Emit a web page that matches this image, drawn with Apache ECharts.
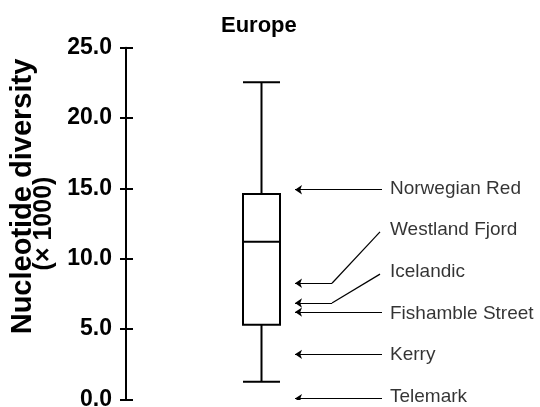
<!DOCTYPE html>
<html>
<head>
<meta charset="utf-8">
<script src="https://cdn.jsdelivr.net/npm/echarts@6/dist/echarts.min.js"></script>
<style>
html,body{margin:0;padding:0;background:#fff;}
#container1{width:540px;height:407px;}
</style>
</head>
<body>
<div id="container1"></div>
<script>
var myChart = echarts.init(document.getElementById('container1'));

// data
var categories = ['Europe'];
var boxValues = [[1.25, 5.3, 11.2, 14.6, 22.55]]; // min, Q1, median, Q3, max
var yTicks = [0, 5, 10, 15, 20, 25];
var breedNames = ['Norwegian Red', 'Westland Fjord', 'Icelandic', 'Fishamble Street', 'Kerry', 'Telemark'];
var breedValues = [14.9, 8.25, 6.85, 6.2, 3.2, 0.05];
// label heights for the two bent leaders (others sit on their arrow)
var labelValues = [14.95, 12.05, 9.05, 6.1, 3.15, 0.15];

// layout (x in screen-ish units of hidden axis)
var xTip = 295, xTail = 382, xBend = 332, xLabel = 385;
var font = 'Liberation Sans, Arial, Helvetica, sans-serif';

var arrows = [], leaders = [], labels = [];
for (var i = 0; i < breedNames.length; i++) {
    var bent = Math.abs(labelValues[i] - breedValues[i]) > 1;
    if (bent) {
        arrows.push({coords: [[xBend, breedValues[i]], [xTip, breedValues[i]]]});
        leaders.push({coords: [[xTail - 2, labelValues[i] - 0.15], [xBend, breedValues[i]]]});
    } else {
        arrows.push({coords: [[xTail, breedValues[i]], [xTip, breedValues[i]]]});
    }
    labels.push({name: breedNames[i], value: [xLabel, labelValues[i]]});
}

var option = {
    animation: false,
    title: {
        text: categories[0],
        left: 221,
        top: 15,
        padding: 0,
        textStyle: {fontFamily: font, fontSize: 22, fontWeight: 'bold', color: '#000'}
    },
    grid: {left: 126, right: 143, top: 47.7, bottom: 7.7, outerBoundsMode: 'none', containLabel: false},
    xAxis: [{
        type: 'category',
        data: categories,
        show: false
    }, {
        type: 'value',
        min: 126,
        max: 397,
        show: false
    }],
    yAxis: [{
        type: 'value',
        min: yTicks[0],
        max: yTicks[yTicks.length - 1],
        interval: 5,
        name: '{a|Nucleotide diversity}\n{b|(× 1000)}',
        nameLocation: 'middle',
        nameRotate: 90,
        nameGap: 69,
        nameTextStyle: {
            align: 'center',
            rich: {
                a: {fontFamily: font, fontSize: 29, fontWeight: 'bold', color: '#000', lineHeight: 21, padding: [0, 0, 0, 54]},
                b: {fontFamily: font, fontSize: 25, fontWeight: 'bold', color: '#000', lineHeight: 21}
            }
        },
        axisLine: {show: true, lineStyle: {color: '#000', width: 2}},
        axisTick: {show: true, length: 6, lineStyle: {color: '#000', width: 2}},
        axisLabel: {
            margin: 14,
            fontFamily: font, fontSize: 23, fontWeight: 'bold', color: '#000',
            formatter: function (v) { return v.toFixed(1); }
        },
        splitLine: {show: false}
    }, {
        type: 'value',
        min: yTicks[0],
        max: yTicks[yTicks.length - 1],
        interval: 5,
        position: 'left',
        axisLine: {show: false},
        axisTick: {show: true, inside: true, length: 7, lineStyle: {color: '#000', width: 2}},
        axisLabel: {show: false},
        splitLine: {show: false}
    }],
    series: [{
        type: 'boxplot',
        data: boxValues,
        boxWidth: [37, 37],
        itemStyle: {color: '#fff', borderColor: '#000', borderWidth: 2},
        emphasis: {disabled: true}
    }, {
        type: 'lines',
        coordinateSystem: 'cartesian2d',
        xAxisIndex: 1,
        yAxisIndex: 0,
        symbol: ['none', 'arrow'],
        symbolSize: [5, 7],
        lineStyle: {color: '#000', width: 1.2, opacity: 1},
        data: arrows
    }, {
        type: 'lines',
        coordinateSystem: 'cartesian2d',
        xAxisIndex: 1,
        yAxisIndex: 0,
        symbol: 'none',
        lineStyle: {color: '#000', width: 1.2, opacity: 1},
        data: leaders
    }, {
        type: 'scatter',
        xAxisIndex: 1,
        yAxisIndex: 0,
        symbolSize: 0,
        label: {
            show: true,
            position: 'right',
            distance: 5,
            formatter: '{b}',
            fontFamily: font, fontSize: 19, color: '#000'
        },
        data: labels
    }]
};
myChart.setOption(option);
</script>
</body>
</html>
